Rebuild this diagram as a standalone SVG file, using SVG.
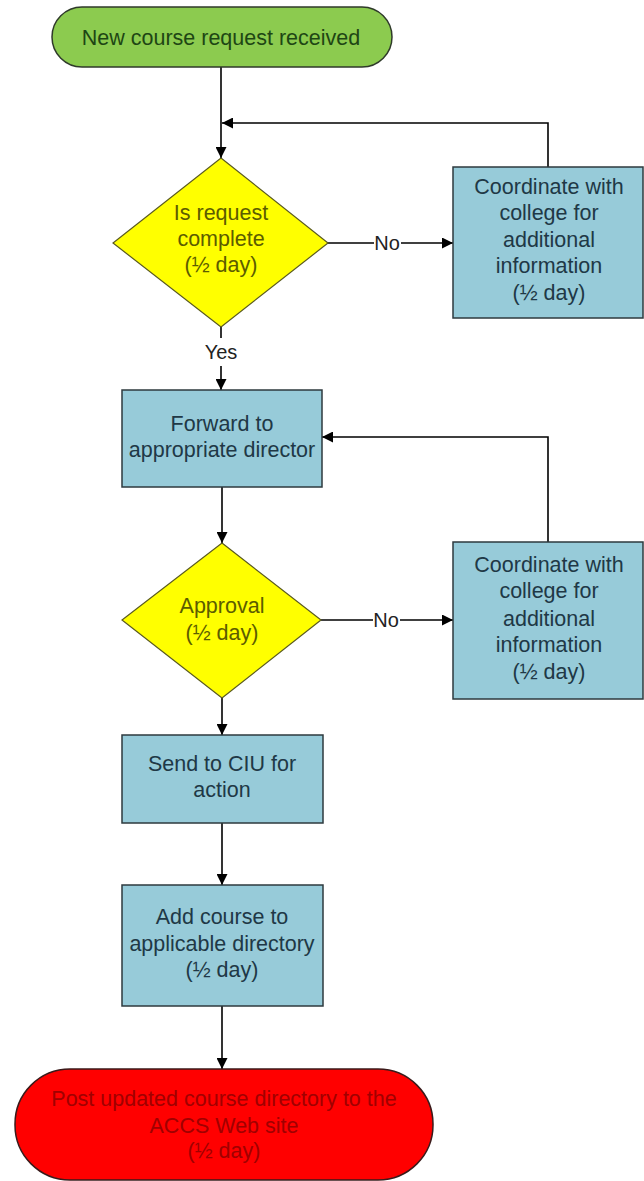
<svg xmlns="http://www.w3.org/2000/svg" width="644" height="1181" viewBox="0 0 644 1181">
  <style>
    text { font-family: "Liberation Sans", Arial, sans-serif; font-size: 21.5px; text-anchor: middle; }
    .start { fill: #8ccb4f; stroke: #2f3a2a; stroke-width: 1.5; }
    .start-t { fill: #1e4614; }
    .dec { fill: #ffff00; stroke: #5a5a20; stroke-width: 1.2; }
    .dec-t { fill: #5c5c00; }
    .box { fill: #97cbd9; stroke: #2e3a3e; stroke-width: 1.5; }
    .box-t { fill: #203846; }
    .end { fill: #ff0000; stroke: #3a1a1a; stroke-width: 1.5; }
    .end-t { fill: #a00000; }
    .edge { fill: none; stroke: #000; stroke-width: 1.6; }
    .lbl { fill: #222; font-size: 20px; }
  </style>
  <defs>
    <marker id="arrow" viewBox="0 0 10 10" refX="10" refY="5" markerWidth="11" markerHeight="11" markerUnits="userSpaceOnUse" orient="auto">
      <path d="M0,0 L10,5 L0,10 Z" fill="#000"/>
    </marker>
  </defs>
  <rect width="644" height="1181" fill="#ffffff"/>

  <g id="connectors">
    <path class="edge" d="M221,67 V158" marker-end="url(#arrow)"/>
    <path class="edge" d="M548,167 V123 H222" marker-end="url(#arrow)"/>
    <path class="edge" d="M328,243 H374"/>
    <path class="edge" d="M401,243 H453" marker-end="url(#arrow)"/>
    <path class="edge" d="M221,327 V338"/>
    <path class="edge" d="M221,366 V390" marker-end="url(#arrow)"/>
    <path class="edge" d="M222,487 V543" marker-end="url(#arrow)"/>
    <path class="edge" d="M548,542 V437 H322" marker-end="url(#arrow)"/>
    <path class="edge" d="M321,620 H373"/>
    <path class="edge" d="M400,620 H453" marker-end="url(#arrow)"/>
    <path class="edge" d="M222,698 V735" marker-end="url(#arrow)"/>
    <path class="edge" d="M222,823 V885" marker-end="url(#arrow)"/>
    <path class="edge" d="M222,1006 V1069" marker-end="url(#arrow)"/>
    <text class="lbl" x="387" y="250">No</text>
    <text class="lbl" x="221" y="359">Yes</text>
    <text class="lbl" x="386" y="627">No</text>
  </g>

  <g id="start">
    <rect class="start" x="52" y="7" width="340" height="60" rx="30" ry="30"/>
    <text class="start-t" x="221" y="45">New course request received</text>
  </g>

  <g id="request-complete">
    <polygon class="dec" points="221,158 328,243 221,327 113,243"/>
    <text class="dec-t" x="221" y="220">Is request</text>
    <text class="dec-t" x="221" y="246">complete</text>
    <text class="dec-t" x="221" y="272">(½ day)</text>
  </g>

  <g id="coordinate-1">
    <rect class="box" x="453" y="167" width="190" height="151"/>
    <text class="box-t" x="549" y="194">Coordinate with</text>
    <text class="box-t" x="549" y="220">college for</text>
    <text class="box-t" x="549" y="247">additional</text>
    <text class="box-t" x="549" y="273">information</text>
    <text class="box-t" x="549" y="300">(½ day)</text>
  </g>

  <g id="forward">
    <rect class="box" x="122" y="390" width="200" height="97"/>
    <text class="box-t" x="222" y="431">Forward to</text>
    <text class="box-t" x="222" y="457">appropriate director</text>
  </g>

  <g id="approval">
    <polygon class="dec" points="222,543 321,620 222,698 122,620"/>
    <text class="dec-t" x="222" y="613">Approval</text>
    <text class="dec-t" x="222" y="640">(½ day)</text>
  </g>

  <g id="coordinate-2">
    <rect class="box" x="453" y="542" width="190" height="157"/>
    <text class="box-t" x="549" y="572">Coordinate with</text>
    <text class="box-t" x="549" y="598">college for</text>
    <text class="box-t" x="549" y="626">additional</text>
    <text class="box-t" x="549" y="652">information</text>
    <text class="box-t" x="549" y="679">(½ day)</text>
  </g>

  <g id="send-ciu">
    <rect class="box" x="122" y="735" width="201" height="88"/>
    <text class="box-t" x="222" y="771">Send to CIU for</text>
    <text class="box-t" x="222" y="797">action</text>
  </g>

  <g id="add-course">
    <rect class="box" x="122" y="885" width="201" height="121"/>
    <text class="box-t" x="222" y="924">Add course to</text>
    <text class="box-t" x="222" y="951">applicable directory</text>
    <text class="box-t" x="222" y="977">(½ day)</text>
  </g>

  <g id="end">
    <rect class="end" x="15" y="1069" width="418" height="111" rx="55" ry="55"/>
    <text class="end-t" x="224" y="1106">Post updated course directory to the</text>
    <text class="end-t" x="224" y="1133">ACCS Web site</text>
    <text class="end-t" x="224" y="1158">(½ day)</text>
  </g>
</svg>
